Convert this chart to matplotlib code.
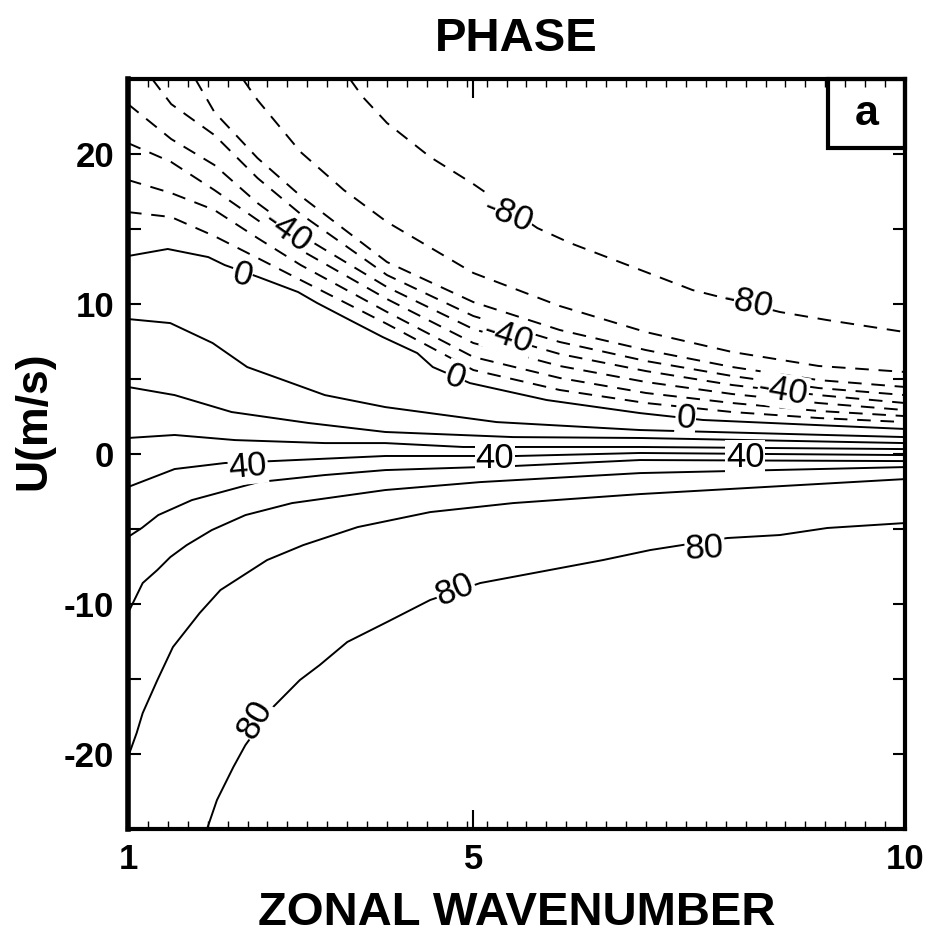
import matplotlib
matplotlib.use('Agg')
import matplotlib.pyplot as plt
from matplotlib.patches import Rectangle
from matplotlib.ticker import MultipleLocator, FixedLocator
import numpy as np

plt.rcParams['font.family'] = ['Liberation Sans', 'DejaVu Sans']
plt.rcParams['axes.unicode_minus'] = False

# phase contours (deg) traced as (wavenumber, U) pairs, one pair of lists per level
k_m80 = [3.57, 3.72, 4.0, 4.5, 5.0, 5.74, 6.12, 7.0, 7.54, 8.55, 9.1, 10.0]
u_m80 = [25.0, 23.8, 22.07, 19.8, 18.0, 15.07, 14.07, 12.13, 10.93, 9.47, 8.93, 8.13]

k_m70 = [2.33, 2.5, 3.0, 3.5, 4.0, 5.0, 6.0, 7.0, 8.0, 9.0, 10.0]
u_m70 = [25.0, 23.6, 20.13, 17.6, 15.47, 12.07, 9.87, 8.13, 6.8, 5.87, 5.47]

k_m60 = [1.78, 2.0, 2.5, 3.0, 4.0, 5.0, 6.0, 7.0, 8.0, 9.0, 10.0]
u_m60 = [25.0, 22.8, 19.73, 17.2, 12.8, 10.13, 8.27, 6.93, 5.8, 4.93, 4.47]

k_m50 = [1.28, 1.5, 2.0, 2.5, 3.0, 4.0, 5.0, 6.0, 7.0, 8.0, 9.0, 10.0]
u_m50 = [25.0, 23.33, 21.27, 18.4, 16.0, 11.93, 9.2, 7.47, 6.2, 5.2, 4.4, 3.93]

k_m40 = [1.0, 1.5, 2.0, 2.5, 3.0, 4.0, 5.0, 6.0, 7.0, 8.0, 9.0, 10.0]
u_m40 = [23.33, 21.0, 19.27, 16.73, 14.6, 11.13, 8.33, 6.67, 5.53, 4.6, 3.93, 3.4]

k_m30 = [1.0, 1.5, 2.0, 2.5, 3.0, 4.0, 5.0, 6.0, 7.0, 8.0, 9.0, 10.0]
u_m30 = [20.73, 19.47, 17.6, 15.6, 13.6, 10.33, 7.4, 5.87, 4.8, 4.0, 3.4, 2.93]

k_m20 = [1.0, 1.5, 2.0, 2.5, 3.0, 4.0, 5.0, 6.0, 7.0, 8.0, 9.0, 10.0]
u_m20 = [18.27, 17.4, 16.27, 14.4, 12.6, 9.47, 6.47, 5.07, 4.07, 3.4, 2.87, 2.53]

k_m10 = [1.0, 1.5, 2.0, 2.5, 3.0, 4.0, 5.0, 6.0, 7.0, 8.0, 9.0, 10.0]
u_m10 = [16.13, 15.8, 14.53, 13.07, 11.6, 8.67, 5.6, 4.27, 3.4, 2.8, 2.4, 2.13]

k_0 = [1.0, 1.46, 1.93, 2.12, 2.51, 2.97, 3.19, 3.57, 3.95, 4.35, 4.53, 4.96, 5.85, 6.93, 7.66, 10.0]
u_0 = [13.2, 13.67, 13.13, 12.6, 11.8, 10.8, 10.07, 8.93, 7.8, 6.73, 5.8, 4.73, 3.6, 2.73, 2.27, 1.67]

k_10 = [1.0, 1.49, 1.98, 2.38, 2.8, 3.28, 3.98, 5.27, 6.93, 10.0]
u_10 = [9.0, 8.73, 7.4, 5.8, 4.93, 3.93, 3.13, 2.13, 1.6, 1.13]

k_20 = [1.0, 1.54, 2.2, 3.09, 3.98, 5.46, 6.93, 10.0]
u_20 = [4.47, 3.93, 2.8, 2.07, 1.47, 1.13, 1.07, 0.73]

k_30 = [1.0, 1.54, 2.24, 3.28, 3.98, 4.88, 6.93, 10.0]
u_30 = [1.07, 1.27, 0.93, 0.73, 0.73, 0.47, 0.47, 0.33]

k_40 = [1.0, 1.54, 2.12, 2.67, 3.98, 5.5, 6.93, 10.0]
u_40 = [-2.2, -1.0, -0.6, -0.47, -0.13, -0.13, 0.07, -0.07]

k_50 = [1.0, 1.16, 1.35, 1.74, 2.51, 3.28, 3.98, 5.46, 6.93, 10.0]
u_50 = [-5.53, -4.93, -4.07, -3.07, -1.87, -1.4, -1.07, -0.8, -0.4, -0.47]

k_60 = [1.0, 1.17, 1.34, 1.49, 1.68, 1.97, 2.36, 2.9, 3.98, 5.08, 6.93, 10.0]
u_60 = [-10.6, -8.6, -7.73, -6.87, -6.07, -5.07, -4.07, -3.27, -2.4, -1.87, -1.27, -0.87]

k_70 = [1.0, 1.10, 1.17, 1.34, 1.52, 1.83, 2.07, 2.61, 3.03, 3.66, 4.5, 5.46, 6.93, 10.0]
u_70 = [-20.2, -18.6, -17.27, -15.07, -12.87, -10.6, -9.07, -7.07, -6.07, -4.87, -3.87, -3.27, -2.67, -1.67]

k_80 = [1.915, 2.03, 2.22, 2.36, 2.68, 2.99, 3.22, 3.54, 4.0, 4.5, 5.08, 6.5, 7.05, 7.94, 8.55, 9.1, 10.0]
u_80 = [-25.0, -23.07, -20.87, -19.4, -16.87, -15.07, -14.07, -12.53, -11.2, -9.73, -8.6, -7.07,
        -6.4, -5.6, -5.4, -4.93, -4.6]

contours = [(-80, k_m80, u_m80), (-70, k_m70, u_m70), (-60, k_m60, u_m60), (-50, k_m50, u_m50),
            (-40, k_m40, u_m40), (-30, k_m30, u_m30), (-20, k_m20, u_m20), (-10, k_m10, u_m10),
            (0, k_0, u_0), (10, k_10, u_10), (20, k_20, u_20), (30, k_30, u_30),
            (40, k_40, u_40), (50, k_50, u_50), (60, k_60, u_60), (70, k_70, u_70),
            (80, k_80, u_80)]

# inline labels: level, wavenumber, U, screen angle
label_level = [80, 80, 80, 40, 40, 40, 0, 0, 0, -40, -40, -40, -80, -80]
label_k = [2.47, 4.79, 7.68, 2.39, 5.25, 8.15, 2.32, 4.79, 7.46, 2.85, 5.4, 8.59, 5.4, 8.18]
label_u = [-17.7, -9.07, -6.27, -0.87, -0.27, -0.2, 11.93, 5.13, 2.4, 14.8, 7.8, 4.2, 15.93, 10.07]
label_rot = [60, 22, 3, 5, 0, 0, -15, -20, -5, -35, -18, -10, -22, -12]

wave_ticks = [1, 5, 10]
u_ticks = [-20, -10, 0, 10, 20]

fig = plt.figure(figsize=(9.29, 9.41), dpi=100)
ax = fig.add_axes([0.1378, 0.119, 0.8364, 0.797])

for level, kk, uu in contours:
    ls = (0, (7, 5)) if level < 0 else '-'
    ax.plot(kk, uu, color='black', lw=1.4, linestyle=ls, solid_capstyle='round')

for lev, lk, lu, rot in zip(label_level, label_k, label_u, label_rot):
    ax.text(lk, lu, str(lev), fontsize=25, ha='center', va='center', rotation=rot,
            rotation_mode='anchor', zorder=5,
            bbox=dict(boxstyle='square,pad=0.02', fc='white', ec='none'))

ax.set_xlim(1, 10)
ax.set_ylim(-25, 25)
ax.xaxis.set_major_locator(FixedLocator(wave_ticks))
ax.xaxis.set_minor_locator(FixedLocator(np.linspace(1, 10, 40)))
ax.yaxis.set_major_locator(FixedLocator(u_ticks))
ax.yaxis.set_minor_locator(MultipleLocator(5))

ax.tick_params(which='both', direction='in', top=True, right=True, labelsize=25, pad=10)
ax.tick_params(axis='x', which='major', length=14, width=1.5)
ax.tick_params(axis='x', which='minor', length=6, width=1.0)
ax.tick_params(axis='y', which='both', length=9, width=1.5)
for lab in ax.get_xticklabels() + ax.get_yticklabels():
    lab.set_fontweight('bold')

for side in ax.spines.values():
    side.set_linewidth(3.0)
ax.spines['left'].set_linewidth(4.0)

# panel tag in the upper right corner
ax.add_patch(Rectangle((0.901, 0.908), 0.099, 0.092, transform=ax.transAxes,
                       fill=False, lw=3.0, ec='black', zorder=6, clip_on=False))
ax.text(0.9505, 0.953, 'a', transform=ax.transAxes, fontsize=31, fontweight='bold',
        ha='center', va='center', zorder=7)

ax.set_title('PHASE', fontsize=34, fontweight='bold', pad=20)
ax.set_xlabel('ZONAL WAVENUMBER', fontsize=34, fontweight='bold')
ax.set_ylabel('U(m/s)', fontsize=32, fontweight='bold')
ax.xaxis.set_label_coords(0.5, -0.083)
ax.yaxis.set_label_coords(-0.095, 0.545)

fig.savefig('out.png', dpi=100)
